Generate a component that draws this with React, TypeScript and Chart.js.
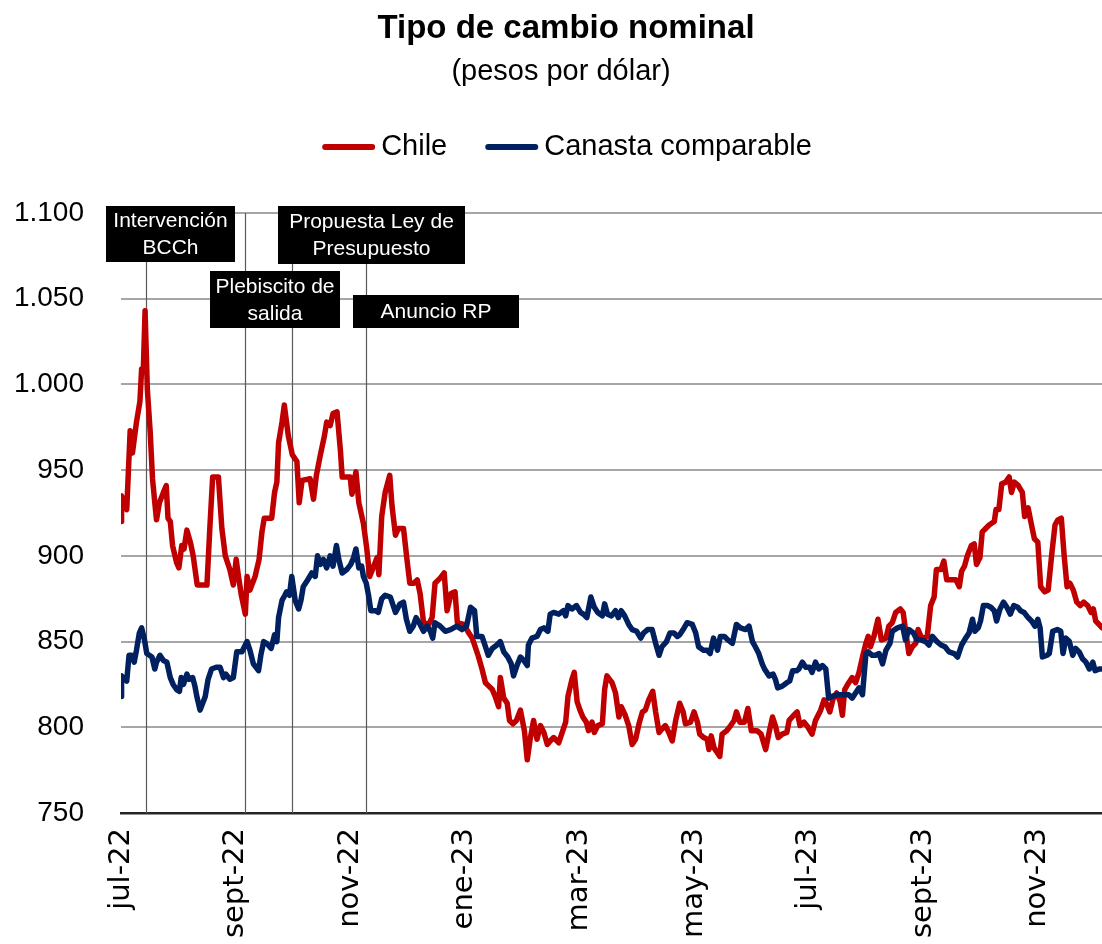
import React, { useEffect, useRef } from "react";
import { Chart, registerables } from "chart.js";

Chart.register(...registerables);

const FONT = "'Liberation Sans', Arial, sans-serif";
const TICK_FONT = "'DejaVu Sans', sans-serif";

const TITLE = "Tipo de cambio nominal";
const SUBTITLE = "(pesos por dólar)";

// x positions are months elapsed since 1 July 2022
const TICK_MONTHS = [0, 2, 4, 6, 8, 10, 12, 14, 16];
const TICK_LABELS = ["jul-22", "sept-22", "nov-22", "ene-23", "mar-23", "may-23", "jul-23", "sept-23", "nov-23"];
const X_END = 17.12;

const chileMonths = [
  0, 0.01, 0.10, 0.16, 0.20, 0.27, 0.33, 0.36, 0.39, 0.42,
  0.46, 0.51, 0.55, 0.59, 0.62, 0.67, 0.74, 0.79, 0.82, 0.86,
  0.90, 0.97, 1.01, 1.06, 1.10, 1.15, 1.21, 1.26, 1.33, 1.41,
  1.50, 1.55, 1.60, 1.70, 1.76, 1.82, 1.90, 1.96, 2.01, 2.05,
  2.10, 2.17, 2.20, 2.25, 2.34, 2.41, 2.46, 2.50, 2.63, 2.68,
  2.72, 2.75, 2.81, 2.85, 2.92, 2.99, 3.07, 3.11, 3.16, 3.30,
  3.36, 3.41, 3.48, 3.55, 3.59, 3.65, 3.70, 3.77, 3.83, 3.86,
  4.00, 4.03, 4.10, 4.15, 4.23, 4.29, 4.34, 4.41, 4.47, 4.50,
  4.55, 4.61, 4.69, 4.73, 4.79, 4.84, 4.93, 4.99, 5.04, 5.11,
  5.17, 5.22, 5.28, 5.37, 5.43, 5.48, 5.57, 5.64, 5.69, 5.76,
  5.83, 5.87, 5.98, 6.07, 6.13, 6.18, 6.24, 6.30, 6.36, 6.42,
  6.48, 6.53, 6.59, 6.62, 6.68, 6.74, 6.78, 6.84, 6.90, 6.97,
  7.04, 7.09, 7.14, 7.20, 7.26, 7.32, 7.38, 7.44, 7.49, 7.55,
  7.64, 7.70, 7.76, 7.80, 7.87, 7.91, 7.96, 8.01, 8.06, 8.12,
  8.16, 8.22, 8.26, 8.32, 8.40, 8.44, 8.48, 8.57, 8.63, 8.69,
  8.73, 8.80, 8.86, 8.92, 8.98, 9.04, 9.10, 9.15, 9.21, 9.28,
  9.33, 9.39, 9.44, 9.50, 9.56, 9.62, 9.68, 9.75, 9.81, 9.85,
  9.94, 10.00, 10.06, 10.10, 10.17, 10.23, 10.26, 10.30, 10.35, 10.41,
  10.45, 10.49, 10.57, 10.64, 10.70, 10.74, 10.80, 10.88, 10.94, 11.00,
  11.10, 11.17, 11.25, 11.31, 11.37, 11.42, 11.47, 11.54, 11.62, 11.66,
  11.74, 11.80, 11.85, 11.92, 11.99, 12.06, 12.12, 12.21, 12.27, 12.31,
  12.37, 12.43, 12.49, 12.55, 12.59, 12.63, 12.70, 12.76, 12.82, 12.88,
  12.94, 13.00, 13.04, 13.08, 13.14, 13.21, 13.27, 13.35, 13.40, 13.46,
  13.52, 13.60, 13.65, 13.69, 13.75, 13.81, 13.87, 13.91, 13.96, 14.01,
  14.07, 14.13, 14.19, 14.23, 14.31, 14.36, 14.41, 14.48, 14.57, 14.63,
  14.67, 14.72, 14.77, 14.84, 14.89, 14.93, 14.99, 15.03, 15.09, 15.15,
  15.24, 15.27, 15.32, 15.37, 15.44, 15.50, 15.54, 15.59, 15.66, 15.73,
  15.77, 15.83, 15.89, 15.94, 16.00, 16.05, 16.12, 16.18, 16.24, 16.30,
  16.35, 16.41, 16.46, 16.51, 16.56, 16.62, 16.68, 16.74, 16.80, 16.87,
  16.93, 16.97, 17.01, 17.07, 17.12,
];

const chileValues = [
  920, 935, 927, 973, 960, 978, 990, 1009, 1009, 1043,
  997, 972, 945, 931, 921, 931, 937, 941, 922, 920,
  906, 896, 893, 906, 904, 915, 908, 900, 883, 883,
  883, 916, 946, 946, 916, 900, 892, 883, 898, 888,
  877, 866, 888, 880, 888, 898, 914, 922, 922, 937,
  943, 966, 978, 988, 970, 959, 955, 931, 944, 945,
  933, 947, 959, 970, 978, 976, 983, 984, 961, 946,
  946, 936, 949, 931, 919, 904, 888, 894, 899, 889,
  923, 937, 947, 929, 912, 916, 916, 898, 884, 884,
  886, 878, 861, 860, 864, 884, 887, 890, 868, 878,
  879, 861, 860, 855, 852, 847, 841, 834, 826, 824,
  822, 818, 812, 829, 817, 814, 804, 802, 804, 810,
  798, 781, 793, 804, 793, 801, 797, 790, 792, 794,
  791, 797, 803, 818, 828, 832, 815, 810, 806, 803,
  798, 803, 797, 801, 802, 822, 830, 826, 820, 806,
  812, 807, 801, 790, 793, 802, 809, 810, 816, 821,
  809, 797, 799, 801, 797, 792, 804, 814, 809, 802,
  803, 809, 803, 796, 794, 793, 787, 795, 788, 785,
  783, 796, 798, 801, 804, 809, 803, 803, 811, 798,
  798, 796, 787, 797, 806, 801, 794, 796, 797, 804,
  807, 809, 801, 803, 800, 796, 804, 810, 816, 814,
  809, 817, 820, 815, 807, 822, 826, 829, 826, 832,
  841, 849, 853, 847, 853, 863, 851, 852, 859, 861,
  867, 869, 867, 857, 843, 847, 849, 857, 853, 852,
  853, 871, 876, 892, 892, 897, 886, 886, 886, 882,
  891, 894, 900, 906, 907, 895, 899, 914, 916, 918,
  920, 927, 927, 942, 943, 946, 937, 943, 941, 937,
  923, 928, 918, 910, 908, 882, 879, 880, 900, 918,
  921, 922, 900, 882, 884, 880, 873, 871, 873, 871,
  867, 869, 862, 860, 858,
];

const canastaMonths = [
  0, 0.01, 0.10, 0.14, 0.19, 0.23, 0.27, 0.32, 0.36, 0.41,
  0.45, 0.54, 0.59, 0.62, 0.68, 0.74, 0.80, 0.86, 0.91, 0.97,
  1.02, 1.05, 1.09, 1.15, 1.19, 1.25, 1.29, 1.33, 1.38, 1.47,
  1.52, 1.58, 1.66, 1.73, 1.79, 1.83, 1.90, 1.96, 2.02, 2.11,
  2.20, 2.25, 2.31, 2.40, 2.44, 2.49, 2.54, 2.62, 2.68, 2.72,
  2.75, 2.81, 2.86, 2.89, 2.94, 2.98, 3.04, 3.10, 3.14, 3.18,
  3.24, 3.33, 3.39, 3.43, 3.48, 3.53, 3.59, 3.65, 3.70, 3.76,
  3.80, 3.86, 3.94, 4.01, 4.06, 4.10, 4.15, 4.20, 4.23, 4.28,
  4.32, 4.36, 4.44, 4.49, 4.55, 4.61, 4.70, 4.79, 4.87, 4.93,
  4.98, 5.04, 5.10, 5.15, 5.22, 5.28, 5.34, 5.40, 5.44, 5.48,
  5.57, 5.66, 5.75, 5.86, 5.95, 6.03, 6.10, 6.17, 6.21, 6.30,
  6.36, 6.41, 6.48, 6.56, 6.62, 6.68, 6.75, 6.81, 6.85, 6.91,
  6.97, 7.03, 7.09, 7.11, 7.17, 7.26, 7.32, 7.38, 7.45, 7.49,
  7.55, 7.64, 7.72, 7.76, 7.80, 7.87, 7.95, 8.02, 8.07, 8.13,
  8.20, 8.26, 8.32, 8.40, 8.44, 8.49, 8.56, 8.63, 8.68, 8.73,
  8.79, 8.86, 8.92, 9.00, 9.07, 9.12, 9.19, 9.27, 9.33, 9.39,
  9.44, 9.52, 9.58, 9.65, 9.71, 9.75, 9.81, 9.88, 9.97, 10.03,
  10.08, 10.16, 10.23, 10.28, 10.34, 10.41, 10.46, 10.53, 10.59, 10.67,
  10.74, 10.81, 10.90, 10.96, 11.02, 11.07, 11.13, 11.19, 11.23, 11.31,
  11.38, 11.42, 11.46, 11.54, 11.62, 11.67, 11.72, 11.79, 11.83, 11.89,
  11.95, 12.02, 12.06, 12.12, 12.18, 12.24, 12.30, 12.35, 12.41, 12.50,
  12.62, 12.70, 12.76, 12.82, 12.88, 12.94, 13.00, 13.04, 13.11, 13.17,
  13.23, 13.29, 13.35, 13.42, 13.46, 13.55, 13.64, 13.69, 13.75, 13.83,
  13.89, 13.96, 14.04, 14.10, 14.16, 14.24, 14.31, 14.38, 14.45, 14.54,
  14.60, 14.67, 14.74, 14.80, 14.86, 14.90, 14.96, 15.00, 15.05, 15.12,
  15.18, 15.24, 15.28, 15.34, 15.40, 15.46, 15.52, 15.58, 15.65, 15.70,
  15.76, 15.83, 15.89, 15.95, 16.00, 16.04, 16.08, 16.16, 16.20, 16.26,
  16.34, 16.40, 16.44, 16.49, 16.55, 16.61, 16.66, 16.72, 16.78, 16.84,
  16.90, 16.96, 17.00, 17.07, 17.12,
];

const canastaValues = [
  818, 830, 827, 842, 842, 838, 845, 855, 858, 851,
  843, 841, 834, 838, 842, 839, 838, 829, 825, 822,
  821, 829, 825, 831, 828, 829, 824, 817, 810, 818,
  828, 834, 835, 835, 829, 831, 828, 829, 844, 844,
  850, 845, 837, 833, 842, 850, 849, 846, 854, 850,
  864, 874, 877, 879, 877, 888, 874, 869, 874, 882,
  885, 890, 888, 900, 895, 898, 893, 900, 894, 906,
  898, 890, 892, 895, 899, 904, 893, 894, 888, 884,
  877, 868, 868, 867, 875, 877, 876, 867, 872, 873,
  863, 856, 859, 864, 860, 856, 859, 856, 852, 861,
  859, 856, 857, 859, 857, 859, 870, 868, 853, 853,
  847, 842, 846, 848, 850, 844, 841, 837, 830, 836,
  841, 839, 836, 848, 852, 853, 857, 858, 856, 866,
  867, 866, 868, 865, 871, 869, 871, 867, 866, 864,
  876, 870, 867, 865, 872, 866, 865, 868, 864, 868,
  865, 860, 857, 856, 852, 855, 857, 857, 849, 842,
  847, 850, 855, 855, 853, 854, 857, 861, 860, 855,
  847, 845, 845, 843, 852, 845, 853, 853, 851, 849,
  860, 858, 857, 859, 850, 847, 843, 837, 834, 830,
  831, 828, 823, 824, 826, 827, 833, 833, 834, 838,
  835, 835, 832, 838, 834, 836, 834, 817, 818, 819,
  819, 819, 817, 820, 823, 819, 843, 844, 842, 842,
  843, 837, 845, 849, 856, 858, 859, 851, 857, 855,
  851, 851, 850, 848, 853, 850, 848, 847, 844, 843,
  841, 848, 852, 855, 863, 856, 858, 862, 871, 871,
  870, 868, 862, 869, 873, 870, 866, 871, 870, 868,
  867, 864, 862, 859, 863, 858, 841, 842, 843, 856,
  857, 856, 843, 852, 850, 842, 846, 844, 840, 838,
  834, 838, 833, 834, 834,
];

// Events (months since 1 July 2022) and their labels
const EVENT_MONTHS = [0.43, 2.16, 2.98, 4.27];
const EVENT_TEXTS = [
  ["Intervención", "BCCh"],
  ["Plebiscito de", "salida"],
  ["Propuesta Ley de", "Presupuesto"],
  ["Anuncio RP"],
];
// label box layout in px: left, top, width, height
const EVENT_BOXES = [
  [106, 206, 129, 56],
  [210, 271, 130, 57],
  [278, 206, 187, 58],
  [353, 295, 166, 33],
];

const CHILE_COLOR = "#C00000";
const CANASTA_COLOR = "#002060";

function fmtThousands(v: number): string {
  const n = Math.round(v);
  if (n >= 1000) {
    const th = Math.floor(n / 1000);
    const rest = String(n % 1000).padStart(3, "0");
    return `${th}.${rest}`;
  }
  return String(n);
}

const headerPlugin = {
  id: "headerPlugin",
  afterDraw(chart: any) {
    const ctx = chart.ctx as CanvasRenderingContext2D;
    ctx.save();
    ctx.fillStyle = "#000";
    ctx.textAlign = "center";
    ctx.textBaseline = "alphabetic";
    ctx.font = `bold 33px ${FONT}`;
    ctx.fillText(TITLE, 566, 38);
    ctx.font = `29px ${FONT}`;
    ctx.fillText(SUBTITLE, 561, 80);

    // legend
    ctx.font = `29px ${FONT}`;
    const items = chart.data.datasets.map((d: any) => ({ label: d.label, color: d.borderColor }));
    const lineLen = 53;
    const gap = 6;
    const spacing = 38;
    const widths = items.map((it: any) => lineLen + gap + ctx.measureText(it.label).width);
    const total = widths.reduce((a: number, b: number) => a + b, 0) + spacing * (items.length - 1);
    let x = 567 - total / 2;
    ctx.textAlign = "left";
    items.forEach((it: any, i: number) => {
      ctx.strokeStyle = it.color;
      ctx.lineWidth = 6;
      ctx.lineCap = "round";
      ctx.beginPath();
      ctx.moveTo(x + 3, 147);
      ctx.lineTo(x + lineLen - 3, 147);
      ctx.stroke();
      ctx.fillStyle = "#000";
      ctx.fillText(it.label, x + lineLen + gap, 155);
      x += widths[i] + spacing;
    });
    ctx.restore();
  },
};

const eventsPlugin = {
  id: "eventsPlugin",
  beforeDatasetsDraw(chart: any) {
    const ctx = chart.ctx as CanvasRenderingContext2D;
    const { top, bottom } = chart.chartArea;
    const xs = chart.scales.x;
    ctx.save();
    ctx.strokeStyle = "#595959";
    ctx.lineWidth = 1.2;
    EVENT_MONTHS.forEach((m) => {
      const px = Math.round(xs.getPixelForValue(m)) + 0.5;
      ctx.beginPath();
      ctx.moveTo(px, top);
      ctx.lineTo(px, bottom);
      ctx.stroke();
    });
    ctx.restore();
  },
  afterDatasetsDraw(chart: any) {
    const ctx = chart.ctx as CanvasRenderingContext2D;
    ctx.save();
    ctx.font = `21px ${FONT}`;
    ctx.textAlign = "center";
    ctx.textBaseline = "middle";
    EVENT_BOXES.forEach((b, i) => {
      const [l, t, w, h] = b;
      ctx.fillStyle = "#000";
      ctx.fillRect(l, t, w, h);
      ctx.fillStyle = "#fff";
      const lines = EVENT_TEXTS[i];
      const cy = t + h / 2;
      const lh = 27;
      lines.forEach((ln, k) => {
        const y = cy + (k - (lines.length - 1) / 2) * lh;
        ctx.fillText(ln, l + w / 2, y + 1);
      });
    });
    ctx.restore();
  },
};

export default function App() {
  const canvasRef = useRef<HTMLCanvasElement | null>(null);

  useEffect(() => {
    const canvas = canvasRef.current;
    if (!canvas) return;
    const chile = chileMonths.map((m, i) => ({ x: m, y: chileValues[i] }));
    const canasta = canastaMonths.map((m, i) => ({ x: m, y: canastaValues[i] }));

    const chart = new Chart(canvas, {
      type: "line",
      data: {
        datasets: [
          {
            label: "Chile",
            data: chile,
            borderColor: CHILE_COLOR,
            backgroundColor: CHILE_COLOR,
            borderWidth: 5.5,
            pointRadius: 0,
            tension: 0,
            borderJoinStyle: "round",
            borderCapStyle: "round",
            order: 1,
          },
          {
            label: "Canasta comparable",
            data: canasta,
            borderColor: CANASTA_COLOR,
            backgroundColor: CANASTA_COLOR,
            borderWidth: 5.5,
            pointRadius: 0,
            tension: 0,
            borderJoinStyle: "round",
            borderCapStyle: "round",
            order: 0,
          },
        ],
      },
      options: {
        responsive: false,
        animation: false,
        devicePixelRatio: 1,
        layout: { padding: { top: 213, left: 0, right: 0, bottom: 0 } },
        plugins: {
          legend: { display: false },
          title: { display: false },
          tooltip: { enabled: false },
        },
        scales: {
          x: {
            type: "linear",
            min: 0,
            max: X_END,
            afterBuildTicks: (s: any) => {
              s.ticks = TICK_MONTHS.map((v) => ({ value: v }));
            },
            ticks: {
              autoSkip: false,
              minRotation: 90,
              maxRotation: 90,
              padding: 15,
              color: "#000",
              font: { family: TICK_FONT, size: 29 },
              callback: (_v: any, idx: number) => TICK_LABELS[idx] ?? "",
            },
            grid: { display: false, drawTicks: false },
            border: { display: true, color: "#262626", width: 2.5 },
            afterFit: (s: any) => {
              s.height = 131;
            },
          },
          y: {
            min: 750,
            max: 1100,
            ticks: {
              stepSize: 50,
              padding: 37,
              color: "#000",
              font: { family: FONT, size: 28 },
              callback: (v: any) => fmtThousands(Number(v)),
            },
            grid: { color: "#A6A6A6", lineWidth: 2, drawTicks: false },
            border: { display: false },
            afterFit: (s: any) => {
              s.width = 121;
            },
          },
        },
      },
      plugins: [eventsPlugin, headerPlugin],
    } as any);

    return () => {
      chart.destroy();
    };
  }, []);

  return (
    <div style={{ position: "fixed", left: 0, top: 0, width: 1102, height: 944, background: "#fff" }}>
      <canvas ref={canvasRef} width={1102} height={944} style={{ display: "block" }} />
    </div>
  );
}
